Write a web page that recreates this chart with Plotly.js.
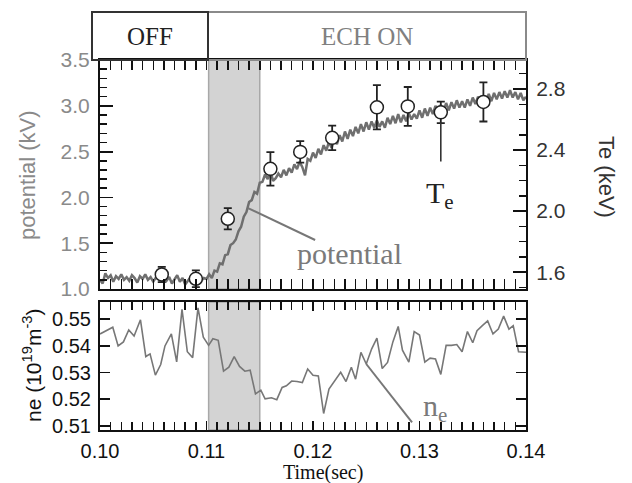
<!DOCTYPE html>
<html>
<head>
<meta charset="utf-8">
<script src="https://cdn.plot.ly/plotly-3.0.1.min.js"></script>
<style>html,body{margin:0;padding:0;background:#fff;}#chart{width:632px;height:483px;}</style>
</head>
<body>
<div id="chart"></div>
<script>
// ---- potential trace (kV) ----
const potT = [0.10000,0.10025,0.10050,0.10075,0.10100,0.10125,0.10150,0.10175,0.10200,0.10225,0.10250,0.10275,0.10300,0.10325,0.10350,0.10375,0.10400,0.10425,0.10450,0.10475,0.10500,0.10525,0.10550,0.10575,0.10600,0.10625,0.10650,0.10675,0.10700,0.10725,0.10750,0.10775,0.10800,0.10825,0.10850,0.10875,0.10900,0.10925,0.10950,0.10975,0.11000,0.11025,0.11050,0.11075,0.11100,0.11125,0.11150,0.11175,0.11200,0.11225,0.11250,0.11275,0.11300,0.11325,0.11350,0.11375,0.11400,0.11425,0.11450,0.11475,0.11500,0.11525,0.11550,0.11575,0.11600,0.11625,0.11650,0.11675,0.11700,0.11725,0.11750,0.11775,0.11800,0.11825,0.11850,0.11875,0.11900,0.11925,0.11950,0.11975,0.12000,0.12025,0.12050,0.12075,0.12100,0.12125,0.12150,0.12175,0.12200,0.12225,0.12250,0.12275,0.12300,0.12325,0.12350,0.12375,0.12400,0.12425,0.12450,0.12475,0.12500,0.12525,0.12550,0.12575,0.12600,0.12625,0.12650,0.12675,0.12700,0.12725,0.12750,0.12775,0.12800,0.12825,0.12850,0.12875,0.12900,0.12925,0.12950,0.12975,0.13000,0.13025,0.13050,0.13075,0.13100,0.13125,0.13150,0.13175,0.13200,0.13225,0.13250,0.13275,0.13300,0.13325,0.13350,0.13375,0.13400,0.13425,0.13450,0.13475,0.13500,0.13525,0.13550,0.13575,0.13600,0.13625,0.13650,0.13675,0.13700,0.13725,0.13750,0.13775,0.13800,0.13825,0.13850,0.13875,0.13900,0.13925,0.13950,0.13975,0.14000];
const potV = [1.10,1.06,1.17,1.12,1.15,1.08,1.14,1.11,1.16,1.10,1.13,1.09,1.15,1.12,1.07,1.14,1.11,1.16,1.10,1.13,1.08,1.12,1.17,1.11,1.14,1.09,1.13,1.06,1.10,1.15,1.08,1.12,1.05,1.09,1.13,1.07,1.11,1.14,1.09,1.12,1.11,
  1.16,1.12,1.20,1.19,1.28,1.27,1.37,1.38,1.48,1.50,1.54,1.63,1.68,1.79,1.84,1.95,1.97,2.06,2.04,2.16,2.17,
  2.25,2.20,2.29,2.18,2.21,2.26,2.22,2.30,2.24,2.32,
  2.27,2.36,2.31,2.39,2.33,2.24,2.42,2.40,2.49,2.43,
  2.53,2.47,2.57,2.51,2.61,2.54,2.64,2.58,2.68,2.61,
  2.72,2.64,2.74,2.67,2.77,2.70,2.80,2.72,2.82,2.74,
  2.83,2.76,2.84,2.77,2.83,2.76,2.87,2.80,2.89,2.81,
  2.91,2.82,2.90,2.83,2.92,2.85,2.91,2.86,2.95,2.87,
  2.97,2.89,2.98,2.91,3.00,2.92,3.01,2.94,3.03,2.95,
  3.04,2.97,3.06,2.98,3.05,2.98,3.07,3.00,3.09,3.02,
  3.10,3.02,3.11,3.04,3.13,3.05,3.14,3.07,3.15,3.08,
  3.16,3.09,3.17,3.09,3.15,3.07,3.14,3.06,3.10];

// ---- Te points (keV) ----
const teT = [0.1058,0.1090,0.1120,0.1160,0.1188,0.1218,0.1260,0.1289,0.1320,0.1360];
const teV = [1.585,1.557,1.950,2.277,2.388,2.480,2.680,2.686,2.647,2.715];
const teErr = [0.05,0.055,0.07,0.11,0.07,0.08,0.145,0.127,0.07,0.128];

// ---- ne trace (1e19 m^-3) ----
const neT = [0.1000,0.1006,0.1012,0.1017,0.1022,0.1027,0.1032,0.1038,0.1043,0.1047,0.1052,0.1057,0.1061,0.1067,0.1072,0.1077,0.1082,0.1087,0.1092,0.1097,0.1102,0.1106,0.1111,0.1116,0.1121,0.1126,0.1131,0.1136,0.1141,0.1146,0.1151,0.1155,0.1161,0.1166,0.1171,0.1175,0.1180,0.1185,0.1190,0.1195,0.1200,0.1205,0.1210,0.1215,0.1220,0.1226,0.1231,0.1236,0.1240,0.1245,0.1250,0.1255,0.1260,0.1265,0.1270,0.1275,0.1280,0.1284,0.1290,0.1295,0.1300,0.1305,0.1310,0.1315,0.1320,0.1325,0.1330,0.1335,0.1340,0.1345,0.1350,0.1354,0.1359,0.1364,0.1369,0.1374,0.1379,0.1384,0.1388,0.1393,0.1400];
const neV = [0.5445,0.5457,0.5470,0.5400,0.5415,0.5460,0.5437,0.5498,0.5360,0.5370,0.5290,0.5330,0.5400,0.5445,0.5340,0.5537,0.5378,0.5356,0.5543,0.5433,0.5402,0.5427,0.5421,0.5305,0.5320,0.5360,0.5323,0.5305,0.5309,0.5220,0.5234,0.5201,0.5205,0.5198,0.5244,0.5250,0.5268,0.5266,0.5262,0.5313,0.5290,0.5287,0.5146,0.5238,0.5266,0.5301,0.5266,0.5320,0.5275,0.5376,0.5332,0.5388,0.5429,0.5315,0.5338,0.5415,0.5473,0.5384,0.5339,0.5454,0.5441,0.5339,0.5354,0.5351,0.5293,0.5402,0.5402,0.5405,0.5378,0.5454,0.5412,0.5457,0.5476,0.5494,0.5445,0.5463,0.5512,0.5463,0.5476,0.5378,0.5376];

// ---- labels ----
const phaseLabels = ['OFF', 'ECH ON'];
const ecrhWindow = [0.1102, 0.1150];

// pixel -> paper helpers (plot area: x 100..526, y 60..430)
const PX0 = 100, PW = 426, PY1 = 430, PH = 370;
const px = v => (v - PX0) / PW;
const py = v => (PY1 - v) / PH;

const SANS = 'Liberation Sans, Arial, sans-serif';
const SERIF = 'Liberation Serif, Times New Roman, serif';

const traces = [
  {x: potT, y: potV, xaxis: 'x', yaxis: 'y', type: 'scatter', mode: 'lines',
   line: {color: '#6f6f6f', width: 2.5}, hoverinfo: 'skip'},
  {x: teT, y: teV, xaxis: 'x', yaxis: 'y2', type: 'scatter', mode: 'markers',
   marker: {symbol: 'circle', size: 13, color: '#ffffff', line: {color: '#222', width: 1.5}},
   error_y: {type: 'data', array: teErr, visible: true, color: '#222', thickness: 1.8, width: 4}},
  {x: neT, y: neV, xaxis: 'x2', yaxis: 'y3', type: 'scatter', mode: 'lines',
   line: {color: '#777777', width: 1.6}}
];

const axBase = {showgrid: false, zeroline: false, showline: true, linecolor: '#111', linewidth: 2,
  ticks: 'inside', tickcolor: '#111', tickwidth: 1.8};

function ann(o) { return Object.assign({showarrow: false, xanchor: 'center', yanchor: 'middle'}, o); }

const layout = {
  width: 632, height: 483,
  margin: {l: 100, r: 106, t: 60, b: 53, pad: 0},
  paper_bgcolor: '#fff', plot_bgcolor: 'rgba(0,0,0,0)',
  showlegend: false,
  xaxis: Object.assign({}, axBase, {domain: [0, 1], anchor: 'y', range: [0.10, 0.14], dtick: 0.01, tick0: 0.1,
    ticklen: 10, mirror: 'allticks', showticklabels: false,
    minor: {dtick: 0.001, ticklen: 5, ticks: 'inside', tickcolor: '#111', tickwidth: 1.5}}),
  yaxis: Object.assign({}, axBase, {domain: [py(289), 1], anchor: 'x', range: [1.0, 3.5], dtick: 0.5, tick0: 0,
    tickformat: '.1f', ticklen: 13, ticklabelstandoff: 4,
    tickfont: {family: SANS, size: 21, color: '#8a8a8a'},
    minor: {dtick: 0.1, ticklen: 7, ticks: 'inside', tickcolor: '#111', tickwidth: 1.5}}),
  yaxis2: Object.assign({}, axBase, {overlaying: 'y', side: 'right', anchor: 'x', range: [1.49, 2.99], dtick: 0.4, tick0: 0,
    tickformat: '.1f', ticklen: 13, ticklabelstandoff: 4,
    tickfont: {family: SANS, size: 21, color: '#333'},
    minor: {dtick: 0.1, ticklen: 7, ticks: 'inside', tickcolor: '#111', tickwidth: 1.5}}),
  xaxis2: Object.assign({}, axBase, {domain: [0, 1], anchor: 'y3', range: [0.10, 0.14], dtick: 0.01, tick0: 0.1,
    tickformat: '.2f', ticklen: 9, mirror: 'allticks', ticklabelstandoff: 2,
    tickfont: {family: SANS, size: 20, color: '#111'},
    minor: {dtick: 0.001, ticklen: 8, ticks: 'inside', tickcolor: '#111', tickwidth: 1.5}}),
  yaxis3: Object.assign({}, axBase, {domain: [0, py(302)], anchor: 'x2', range: [0.5084, 0.5565], dtick: 0.01, tick0: 0.5,
    tickformat: '.2f', ticklen: 10, mirror: 'allticks', ticklabelstandoff: 3,
    tickfont: {family: SANS, size: 20, color: '#111'}}),
  shapes: [
    {type: 'rect', xref: 'x', yref: 'y domain', x0: ecrhWindow[0], x1: ecrhWindow[1], y0: 0, y1: 1,
     fillcolor: '#d3d3d3', line: {color: '#a8a8a8', width: 1.5}, layer: 'below'},
    {type: 'rect', xref: 'x2', yref: 'y3 domain', x0: ecrhWindow[0], x1: ecrhWindow[1], y0: 0, y1: 1,
     fillcolor: '#d3d3d3', line: {color: '#a8a8a8', width: 1.5}, layer: 'below'},
    {type: 'rect', xref: 'paper', yref: 'paper', x0: px(208), x1: 1, y0: 1, y1: py(12),
     fillcolor: 'rgba(0,0,0,0)', line: {color: '#8a8a8a', width: 2}},
    {type: 'rect', xref: 'paper', yref: 'paper', x0: px(92), x1: px(208), y0: 1, y1: py(12),
     fillcolor: 'rgba(0,0,0,0)', line: {color: '#333', width: 2}},
    {type: 'line', xref: 'x', yref: 'y', x0: 0.1139, y0: 1.884, x1: 0.1202, y1: 1.535,
     line: {color: '#777', width: 2}},
    {type: 'line', xref: 'x', yref: 'y2', x0: 0.1320, y0: 2.325, x1: 0.1320, y1: 2.58,
     line: {color: '#333', width: 1.6}},
    {type: 'line', xref: 'x2', yref: 'y3', x0: 0.1250, y0: 0.5332, x1: 0.1293, y1: 0.5113,
     line: {color: '#777', width: 2}}
  ],
  annotations: [
    ann({xref: 'paper', yref: 'paper', x: px(150), y: py(37), text: phaseLabels[0],
     font: {family: SERIF, size: 25, color: '#222'}}),
    ann({xref: 'paper', yref: 'paper', x: px(367), y: py(37), text: phaseLabels[1],
     font: {family: SERIF, size: 25, color: '#808080'}}),
    ann({xref: 'paper', yref: 'paper', x: px(27), y: py(175), text: 'potential (kV)', textangle: -90,
     font: {family: SANS, size: 22, color: '#8a8a8a'}}),
    ann({xref: 'paper', yref: 'paper', x: px(607), y: py(177), text: 'Te (keV)', textangle: 90,
     font: {family: SANS, size: 22, color: '#333'}}),
    ann({xref: 'paper', yref: 'paper', x: px(32), y: py(366), text: 'ne (10<sup>19</sup>m<sup>-3</sup>)', textangle: -90,
     font: {family: SANS, size: 21, color: '#111'}}),
    ann({xref: 'paper', yref: 'paper', x: px(323), y: py(472), text: 'Time(sec)',
     font: {family: SERIF, size: 20, color: '#111'}}),
    ann({xref: 'x', yref: 'y', x: 0.12338, y: 1.393, text: 'potential',
     font: {family: SERIF, size: 30, color: '#7a7a7a'}}),
    ann({xref: 'x', yref: 'y2', x: 0.1319, y: 2.108, text: 'T<sub>e</sub>',
     font: {family: SERIF, size: 30, color: '#222'}}),
    ann({xref: 'x2', yref: 'y3', x: 0.1315, y: 0.5168, text: 'n<sub>e</sub>',
     font: {family: SERIF, size: 30, color: '#7a7a7a'}})
  ]
};

Plotly.newPlot('chart', traces, layout, {staticPlot: true, displayModeBar: false});
</script>
</body>
</html>
